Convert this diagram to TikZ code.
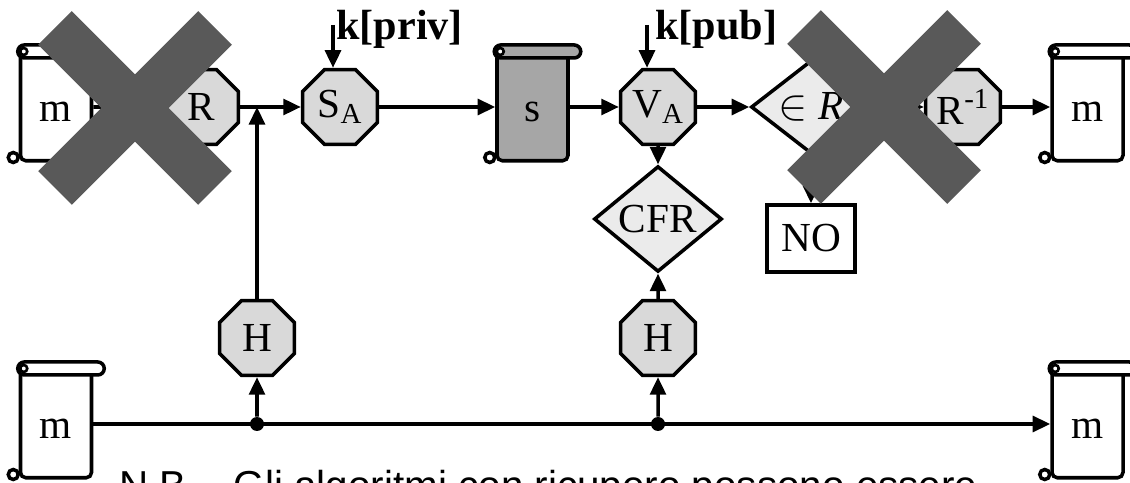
\documentclass[tikz,border=0pt]{standalone}
\usepackage{fontspec}
\setmainfont{Liberation Serif}
\newfontfamily\nbfont{Liberation Sans}
\usepackage{tikz}
\usetikzlibrary{arrows.meta, positioning, shapes.geometric, calc}

\begin{document}
\begin{tikzpicture}[
    every node/.style={font=\fontsize{23.5}{26}\selectfont},
    line/.style={draw, -{Triangle[length=10pt, width=9pt]}, line width=2pt},
    oct/.style={draw, regular polygon, regular polygon sides=8, minimum size=1.62cm, inner sep=0pt, fill=black!15, line width=2pt},
    testbox/.style={draw, diamond, inner sep=0pt, fill=black!8, line width=2pt},
    scroll/.style={draw, rectangle, rounded corners=3pt, minimum width=1.42cm, minimum height=2.15cm, text height=0.58cm, line width=2pt, fill=white},
    keytext/.style={font=\fontsize{24}{26}\selectfont\bfseries, inner sep=0pt, anchor=base west},
    dot/.style={circle, fill, inner sep=0pt, minimum size=0.28cm},
    cross/.style={line width=0.95cm, color=black!65}
]
    \useasboundingbox (0,0) rectangle (22.6,9.64);

    \node[scroll] (m1) at (1.12,7.5) {m};
    \node[oct] (r) at (4.02,7.5) {R};
    \node[oct] (sa) at (6.8,7.5) {S\textsubscript{A}};
    \node[scroll, fill=black!35] (s) at (10.65,7.5) {s};
    \node[oct] (va) at (13.16,7.5) {V\textsubscript{A}};
    \node[testbox, minimum width=2.4cm, minimum height=1.6cm] (inr) at (16.22,7.5) {$\in$ \textit{R}};
    \node[oct] (rinv) at (19.26,7.5) {R\textsuperscript{-1}};
    \node[scroll] (m2) at (21.75,7.5) {m};
    \node[testbox, minimum width=2.56cm, minimum height=1.64cm] (cfr) at (13.16,5.26) {CFR};
    \node[draw, line width=2pt, minimum width=1.76cm, minimum height=1.34cm] (no) at (16.22,4.87) {NO};
    \node[oct] (h1) at (5.14,2.88) {H};
    \node[oct] (h2) at (13.16,2.88) {H};
    \node[scroll] (m3) at (1.12,1.16) {m};
    \node[scroll] (m4) at (21.75,1.16) {m};

    \foreach \n/\c in {m1/white, s/black!35, m2/white, m3/white, m4/white}{
        \draw[line width=2pt, fill=\c, rounded corners=0.13cm] ([shift={(-0.02,-0.13)}]\n.north west) rectangle ([shift={(0.22,0.13)}]\n.north east);
        \draw[line width=1.5pt, fill=white] ([shift={(0.1,0)}]\n.north west) circle (0.07);
        \draw[line width=2pt, fill=white] ([shift={(-0.11,0.1)}]\n.south west) circle (0.1);
    }

    \coordinate (kp) at (6.66,9.14);
    \node[keytext] (kpriv) at (6.72,8.84) {k[priv]};
    \coordinate (kq) at (12.94,9.14);
    \node[keytext] (kpub) at (13.1,8.84) {k[pub]};

    \node[dot] (d1) at (h1 |- m3) {};
    \node[dot] (d2) at (h2 |- m3) {};

    \draw[line] (m1) -- (r);
    \draw[line] (r) -- (sa);
    \draw[line] (sa) -- (s);
    \draw[line] (s) -- (va);
    \draw[line] (va) -- (inr);
    \draw[line] (inr) -- (rinv);
    \draw[line] (rinv) -- (m2);
    \draw[line] (va) -- (cfr);
    \draw[line] (inr) -- (no);
    \draw[line] (h2) -- (cfr);
    \draw[line] (h1) -- (h1 |- r);
    \draw[line] (kp) -- (kp |- sa.north);
    \draw[line] (kq) -- (kq |- va.north);
    \draw[line] (m3) -- (m4);
    \draw[line] (d1) -- (h1);
    \draw[line] (d2) -- (h2);

    \node[font=\nbfont\fontsize{23}{26}\selectfont, anchor=base west, inner sep=0pt] (nb) at (2.38,-0.34) {N.B. - Gli algoritmi con ricupero possono essere};

    \foreach \x/\y in {2.7/7.48, 17.68/7.5}{
        \draw[cross] (\x-1.6,\y+1.6) -- (\x+1.6,\y-1.6) (\x-1.6,\y-1.6) -- (\x+1.6,\y+1.6);
    }
\end{tikzpicture}
\end{document}
